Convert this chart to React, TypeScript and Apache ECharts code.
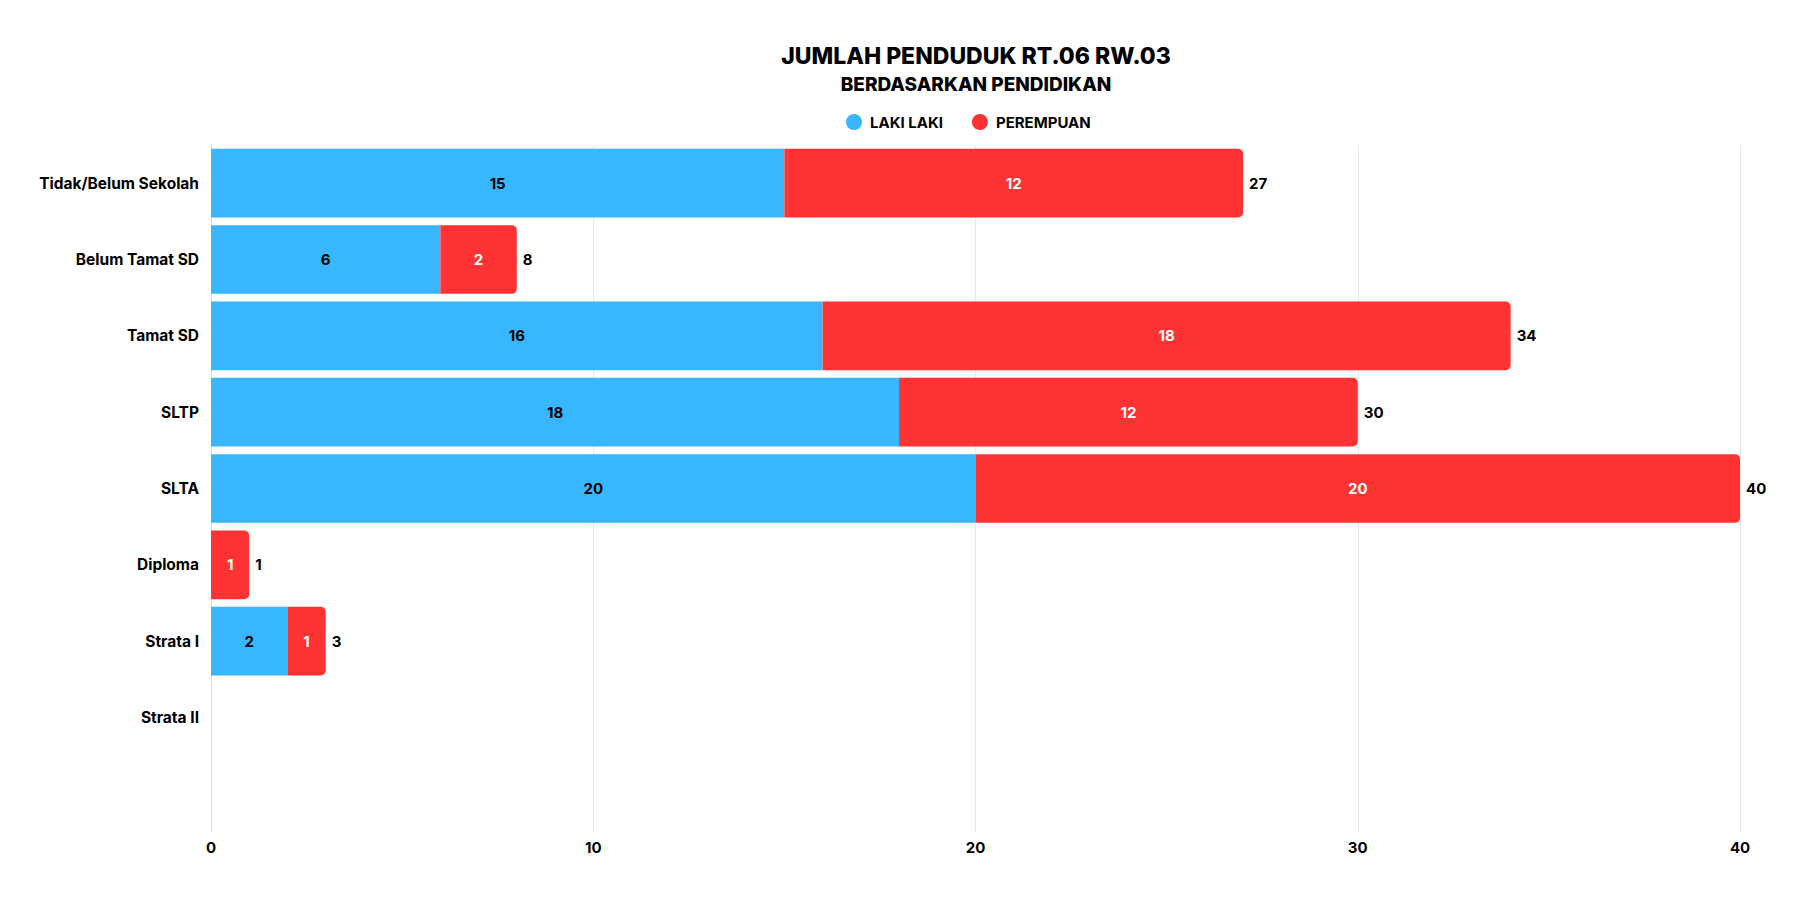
import React, { useEffect, useRef } from 'react';
import * as echarts from 'echarts';

const categories = [
    'Tidak/Belum Sekolah',
    'Belum Tamat SD',
    'Tamat SD',
    'SLTP',
    'SLTA',
    'Diploma',
    'Strata I',
    'Strata II',
    '',
];
const lakiLaki = [15, 6, 16, 18, 20, 0, 2, 0, 0];
const perempuan = [12, 2, 18, 12, 20, 1, 1, 0, 0];
const xTicks = [0, 10, 20, 30, 40];

const FONT = 'Inter, "Noto Sans", sans-serif';
const BLUE = '#38B6FF';
const RED = '#FF3333';

const App: React.FC = () => {
    const chartRef = useRef<HTMLDivElement>(null);

    useEffect(() => {
        if (!chartRef.current) return;
        const chart = echarts.init(chartRef.current, undefined, { renderer: 'svg' });
        const totals = lakiLaki.map((v, i) => v + perempuan[i]);

        chart.setOption({
            animation: false,
            textStyle: { fontFamily: FONT },
            graphic: [
                {
                    type: 'text',
                    x: 976,
                    y: 56,
                    style: {
                        text: 'JUMLAH PENDUDUK RT.06 RW.03',
                        fontFamily: FONT,
                        fontSize: 23,
                        fontWeight: 800,
                        fill: '#000',
                        align: 'center',
                        verticalAlign: 'middle',
                    },
                },
                {
                    type: 'text',
                    x: 976,
                    y: 84,
                    style: {
                        text: 'BERDASARKAN PENDIDIKAN',
                        fontFamily: FONT,
                        fontSize: 19,
                        fontWeight: 800,
                        fill: '#000',
                        align: 'center',
                        verticalAlign: 'middle',
                    },
                },
            ],
            legend: {
                data: ['LAKI LAKI', 'PEREMPUAN'],
                left: 841,
                top: 109,
                icon: 'circle',
                itemWidth: 16,
                itemHeight: 16,
                itemGap: 29,
                textStyle: {
                    fontFamily: FONT,
                    fontSize: 15,
                    fontWeight: 700,
                    color: '#000',
                    padding: [0, 0, 0, 3],
                },
            },
            grid: { left: 211, right: 60, top: 145, bottom: 68, containLabel: false },
            xAxis: {
                type: 'value',
                min: xTicks[0],
                max: xTicks[xTicks.length - 1],
                interval: 10,
                axisLine: { show: false },
                axisTick: { show: false },
                splitLine: { show: true, lineStyle: { color: '#e8e8e8', width: 1 } },
                axisLabel: { fontFamily: FONT, fontSize: 15, fontWeight: 700, color: '#000', margin: 8 },
            },
            yAxis: {
                type: 'category',
                data: categories,
                inverse: true,
                axisLine: { show: true, lineStyle: { color: '#dddddd' } },
                axisTick: { show: false },
                splitLine: { show: false },
                axisLabel: { fontFamily: FONT, fontSize: 15.5, fontWeight: 700, color: '#000', margin: 12 },
            },
            series: [
                {
                    name: 'LAKI LAKI',
                    type: 'bar',
                    stack: 'total',
                    data: lakiLaki,
                    barCategoryGap: '10%',
                    itemStyle: { color: BLUE },
                    label: {
                        show: true,
                        position: 'inside',
                        color: '#000',
                        fontFamily: FONT,
                        fontSize: 15,
                        fontWeight: 700,
                        formatter: (p: { value: number }) => (p.value > 0 ? String(p.value) : ''),
                    },
                },
                {
                    name: 'PEREMPUAN',
                    type: 'bar',
                    stack: 'total',
                    data: perempuan,
                    itemStyle: { color: RED, borderRadius: [0, 5, 5, 0] },
                    label: {
                        show: true,
                        position: 'inside',
                        color: '#fff',
                        fontFamily: FONT,
                        fontSize: 15,
                        fontWeight: 700,
                        formatter: (p: { value: number }) => (p.value > 0 ? String(p.value) : ''),
                    },
                },
                {
                    name: 'Total',
                    type: 'bar',
                    stack: 'total',
                    data: totals.map(() => 0),
                    itemStyle: { color: 'transparent' },
                    label: {
                        show: true,
                        position: 'right',
                        distance: 6,
                        color: '#000',
                        fontFamily: FONT,
                        fontSize: 15,
                        fontWeight: 700,
                        formatter: (p: { dataIndex: number }) =>
                            totals[p.dataIndex] > 0 ? String(totals[p.dataIndex]) : '',
                    },
                },
            ],
        });

        return () => chart.dispose();
    }, []);

    return (
        <div
            ref={chartRef}
            style={{ position: 'fixed', left: 0, top: 0, width: 1800, height: 900, background: '#fff' }}
        />
    );
};

export default App;
